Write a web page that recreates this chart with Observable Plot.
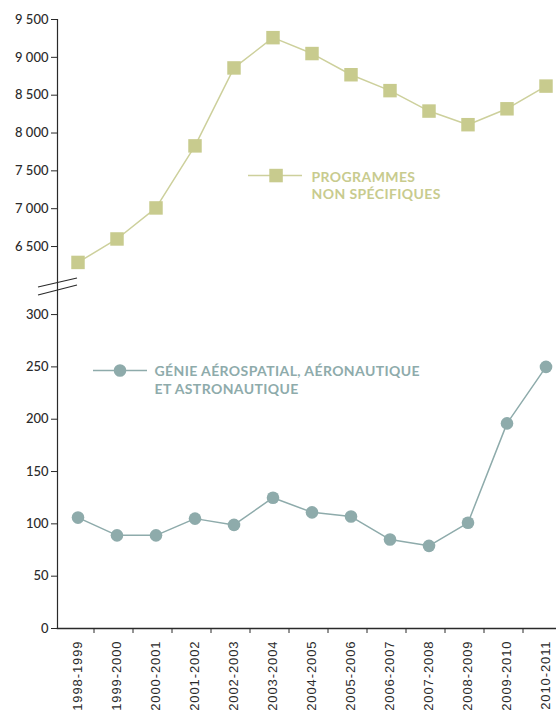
<!DOCTYPE html>
<html>
<head>
<meta charset="utf-8">
<script src="https://cdn.jsdelivr.net/npm/d3@7"></script>
<script src="https://cdn.jsdelivr.net/npm/@observablehq/plot@0.6"></script>
<style>
  html, body { margin: 0; padding: 0; background: #fff; }
  #wrap { position: relative; width: 556px; height: 711px; overflow: hidden; }
  #wrap > svg { display: block; }
  #overlay { position: absolute; left: 0; top: 0; pointer-events: none; }
  g[aria-label="x-axis tick label"] text { letter-spacing: 0.9px; }
</style>
</head>
<body>
<div id="wrap"></div>
<script>
const years = ["1998-1999","1999-2000","2000-2001","2001-2002","2002-2003","2003-2004","2004-2005","2005-2006","2006-2007","2007-2008","2008-2009","2009-2010","2010-2011"];
const programmes = [6290, 6600, 7010, 7830, 8860, 9260, 9050, 8770, 8560, 8290, 8110, 8320, 8620];
const genie = [106, 89, 89, 105, 99, 125, 111, 107, 85, 79, 101, 196, 250];
const topTicks = [6500, 7000, 7500, 8000, 8500, 9000, 9500];
const bottomTicks = [0, 50, 100, 150, 200, 250, 300];
const labelProgrammes = ["PROGRAMMES", "NON SPÉCIFIQUES"];
const labelGenie = ["GÉNIE AÉROSPATIAL, AÉRONAUTIQUE", "ET ASTRONAUTIQUE"];

const olive = "#c8cb8e";
const oliveLine = "#cdd09c";
const teal = "#8eabab";
const ink = "#2a2a2a";

const fmt = d => d3.format(",")(d).replace(/,/g, " ");
const topData = years.map((y, i) => ({year: y, value: programmes[i]}));
const botData = years.map((y, i) => ({year: y, value: genie[i]}));

const xScale = {type: "band", domain: years, range: [57.5, 566], padding: 0};

const topPlot = Plot.plot({
  width: 556, height: 290,
  marginLeft: 57, marginRight: 0, marginTop: 19, marginBottom: 0,
  style: {fontFamily: "Lato, sans-serif", fontSize: "13px", color: ink, overflow: "hidden"},
  x: {...xScale, axis: null},
  y: {domain: [5919, 9500]},
  marks: [
    Plot.frame({anchor: "left", stroke: ink, strokeWidth: 1.2}),
    Plot.axisY({ticks: topTicks, tickFormat: fmt, tickSize: 6, tickPadding: 3, label: null, fontWeight: 500, fill: ink}),
    Plot.line(topData, {x: "year", y: "value", stroke: oliveLine, strokeWidth: 1.5}),
    Plot.dot(topData, {x: "year", y: "value", symbol: "square", r: 7.6, fill: olive, stroke: "none"})
  ]
});

const botPlot = Plot.plot({
  width: 556, height: 421,
  marginLeft: 57, marginRight: 0, marginTop: 0, marginBottom: 83,
  style: {fontFamily: "Lato, sans-serif", fontSize: "13px", color: ink, overflow: "hidden"},
  x: {...xScale, label: null},
  y: {domain: [0, 323]},
  marks: [
    Plot.frame({anchor: "left", stroke: ink, strokeWidth: 1.2}),
    Plot.frame({anchor: "bottom", stroke: ink, strokeWidth: 1.5}),
    Plot.axisY({ticks: bottomTicks, tickFormat: fmt, tickSize: 6, tickPadding: 3, label: null, fontWeight: 500, fill: ink}),
    Plot.axisX({tickSize: 5, text: null, dx: 16, stroke: ink}),
    Plot.axisX({tickSize: 0, tickPadding: 12, tickRotate: -90, label: null, fontFamily: "Liberation Sans, Arial, sans-serif", fontSize: 13, fill: ink}),
    Plot.line(botData, {x: "year", y: "value", stroke: teal, strokeWidth: 1.5}),
    Plot.dot(botData, {x: "year", y: "value", r: 6.3, fill: teal, stroke: "none"})
  ]
});

const wrap = document.getElementById("wrap");
wrap.appendChild(topPlot);
wrap.appendChild(botPlot);

// overlay: axis break marks and legends
const ov = d3.select(wrap).append("svg").attr("id", "overlay").attr("width", 556).attr("height", 711);
ov.append("line").attr("x1", 38).attr("y1", 287).attr("x2", 77).attr("y2", 278).attr("stroke", ink).attr("stroke-width", 1.2);
ov.append("line").attr("x1", 38).attr("y1", 295).attr("x2", 77).attr("y2", 285).attr("stroke", ink).attr("stroke-width", 1.2);

// legend 1
ov.append("line").attr("x1", 248).attr("x2", 302).attr("y1", 175.5).attr("y2", 175.5).attr("stroke", oliveLine).attr("stroke-width", 1.5);
ov.append("rect").attr("x", 269.3).attr("y", 168.8).attr("width", 13.5).attr("height", 13.5).attr("fill", olive);
const t1 = ov.append("text").attr("font-family", "Lato, sans-serif").attr("font-weight", 700).attr("font-size", 14).attr("fill", olive).attr("letter-spacing", "0.4px");
labelProgrammes.forEach((s, i) => t1.append("tspan").attr("x", 311.5).attr("y", 181.7 + i * 17.6).text(s));

// legend 2
ov.append("line").attr("x1", 93).attr("x2", 147).attr("y1", 370.5).attr("y2", 370.5).attr("stroke", teal).attr("stroke-width", 1.5);
ov.append("circle").attr("cx", 120).attr("cy", 370.5).attr("r", 6.3).attr("fill", teal);
const t2 = ov.append("text").attr("font-family", "Lato, sans-serif").attr("font-weight", 700).attr("font-size", 14).attr("fill", teal).attr("letter-spacing", "0.4px");
labelGenie.forEach((s, i) => t2.append("tspan").attr("x", 154.5).attr("y", 375.7 + i * 18.6).text(s));
</script>
</body>
</html>
